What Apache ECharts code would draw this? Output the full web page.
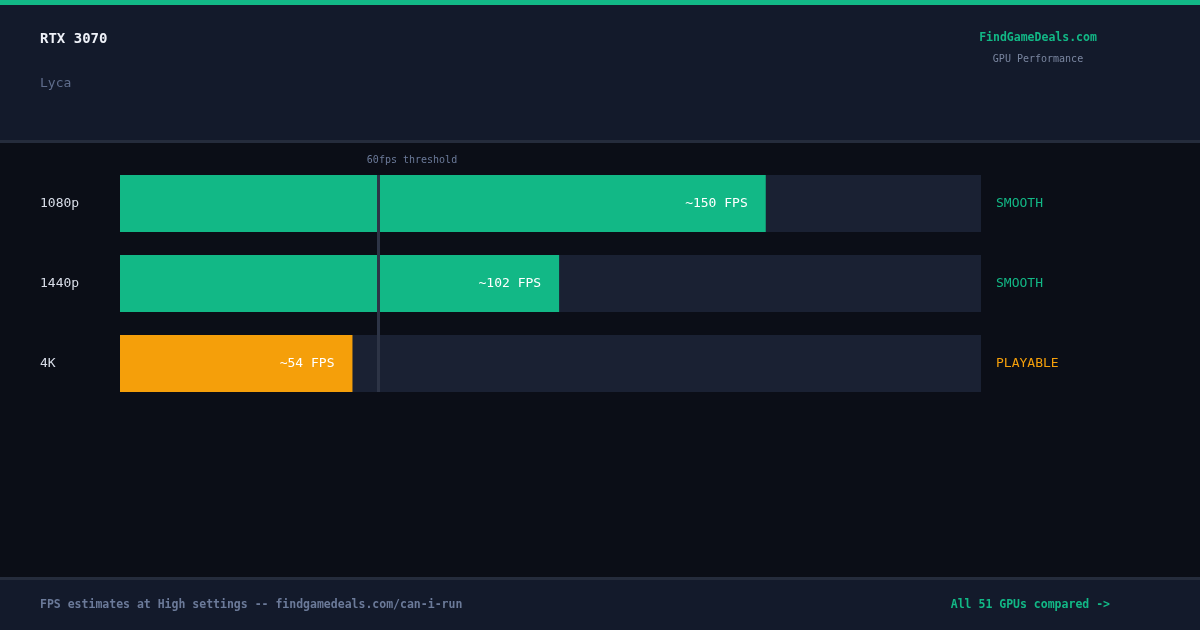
<!DOCTYPE html>
<html>
<head>
<meta charset="UTF-8">
<title>RTX 3070 - Lyca</title>
<style>
  html, body { margin: 0; padding: 0; background: #0b0e17; }
  #chart { width: 1200px; height: 630px; }
</style>
</head>
<body>
<div id="chart"></div>
<script src="https://cdn.jsdelivr.net/npm/echarts@6/dist/echarts.min.js"></script>
<script>
const resolutions = ['1080p', '1440p', '4K'];
const fpsValues = [150, 102, 54];
const statusLabels = ['SMOOTH', 'SMOOTH', 'PLAYABLE'];
const barColors = ['#12b886', '#12b886', '#f59f0a'];
const threshold = 60;
const fpsMax = 200;

const mono = '"DejaVu Sans Mono", monospace';
const chart = echarts.init(document.getElementById('chart'));

const option = {
  backgroundColor: '#0b0e17',
  animation: false,
  graphic: [
    { type: 'rect', shape: { x: 0, y: 0, width: 1200, height: 141 }, style: { fill: '#131a2b' }, z: -10 },
    { type: 'rect', shape: { x: 0, y: 0, width: 1200, height: 5 }, style: { fill: '#12b886' } },
    { type: 'rect', shape: { x: 0, y: 140, width: 1200, height: 3 }, style: { fill: '#252c3c' } },
    { type: 'rect', shape: { x: 0, y: 578, width: 1200, height: 52 }, style: { fill: '#131a2b' }, z: -10 },
    { type: 'rect', shape: { x: 0, y: 577, width: 1200, height: 3 }, style: { fill: '#252c3c' } },
    { type: 'text', left: 40, top: 32, style: { text: 'RTX 3070', fill: '#eef1f8', font: 'bold 14px ' + mono } },
    { type: 'text', left: 40, top: 77, style: { text: 'Lyca', fill: '#5f6d8c', font: '13px ' + mono } },
    { type: 'text', x: 1038, y: 32, style: { text: 'FindGameDeals.com', fill: '#12b886', font: 'bold 11.5px ' + mono, textAlign: 'center' } },
    { type: 'text', x: 1038, y: 54, style: { text: 'GPU Performance', fill: '#7a86a0', font: '10px ' + mono, textAlign: 'center' } },
    { type: 'text', left: 40, top: 599, style: { text: 'FPS estimates at High settings -- findgamedeals.com/can-i-run', fill: '#6b7a99', font: 'bold 11.5px ' + mono } },
    { type: 'text', x: 1110, y: 599, style: { text: 'All 51 GPUs compared ->', fill: '#12b886', font: 'bold 11.5px ' + mono, textAlign: 'right' } },
    { type: 'text', x: 412, y: 155, style: { text: threshold + 'fps threshold', fill: '#6b7a99', font: '10px ' + mono, textAlign: 'center' } }
  ],
  grid: { left: 120, right: 219, top: 163.5, height: 240 },
  xAxis: { type: 'value', min: 0, max: fpsMax, show: false },
  yAxis: [{
    type: 'category', data: resolutions, inverse: true,
    axisLine: { show: false }, axisTick: { show: false },
    axisLabel: { color: '#d8dde8', fontFamily: mono, fontSize: 13, align: 'left', margin: 80 }
  }, {
    type: 'category', data: statusLabels, inverse: true, position: 'right',
    axisLine: { show: false }, axisTick: { show: false },
    axisLabel: {
      fontFamily: mono, fontSize: 13, align: 'left', margin: 15,
      color: (v, i) => barColors[i]
    }
  }],
  series: [{
    type: 'bar',
    barWidth: 57,
    data: fpsValues.map((v, i) => ({ value: v, itemStyle: { color: barColors[i] } })),
    showBackground: true,
    backgroundStyle: { color: '#1a2133' },
    label: {
      show: true, position: 'insideRight', distance: 18,
      formatter: p => '~' + p.value + ' FPS',
      color: '#ffffff', fontFamily: mono, fontSize: 13
    },
    markLine: {
      silent: true, symbol: 'none',
      lineStyle: { color: '#2d3446', width: 3, type: 'solid' },
      label: { show: false },
      data: [[
        { coord: [threshold, resolutions[0]], y: 175 },
        { coord: [threshold, resolutions[2]], y: 392 }
      ]]
    }
  }]
};
chart.setOption(option);
</script>
</body>
</html>
